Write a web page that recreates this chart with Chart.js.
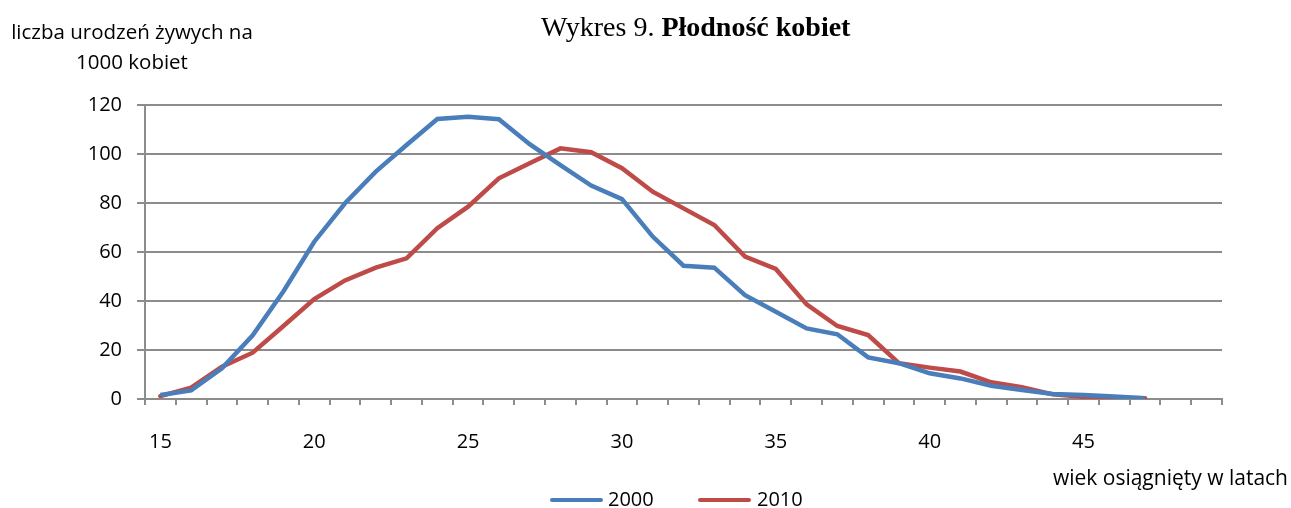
<!DOCTYPE html>
<html>
<head>
<meta charset="utf-8">
<script src="https://cdn.jsdelivr.net/npm/chart.js@4.4.1/dist/chart.umd.min.js"></script>
<style>
  body { margin: 0; background: #fff; }
  #wrap { position: relative; width: 1291px; height: 508px; }
  canvas { position: absolute; left: 0; top: 0; }
  .txt { position: absolute; font-family: "Open Sans", sans-serif; color: #000; line-height: 1; white-space: nowrap; }
  #title { position: absolute; left: 541px; top: 13px; font-family: "Liberation Serif", serif; font-size: 28px; line-height: 1; white-space: nowrap; }
  .legline { position: absolute; top: 498px; width: 53px; height: 4px; border-radius: 2px; }
</style>
</head>
<body>
<div id="wrap">
  <canvas id="fert" width="1291" height="508"></canvas>
  <div id="title">Wykres 9. <b>Płodność kobiet</b></div>
  <div class="txt" style="left:2px; top:16px; width:260px; text-align:center; font-size:20.5px; line-height:30px;">liczba urodzeń żywych na<br>1000 kobiet</div>
  <div class="txt" style="right:3px; top:467px; font-size:21px;">wiek osiągnięty w latach</div>
  <div class="legline" style="left:550px; background:#4a7ebb"></div>
  <div class="txt" style="left:608px; top:489px; font-size:20px;">2000</div>
  <div class="legline" style="left:698px; background:#be4b48"></div>
  <div class="txt" style="left:757px; top:489px; font-size:20px;">2010</div>
</div>
<script>
// wiek 15-49, dane do 47 lat
var ages = [];
for (var a = 15; a <= 49; a++) ages.push(String(a));

var y2000 = [1.6, 3.5, 12.5, 26, 44, 64.2, 79.9, 92.8, 103.7, 114.3, 115.2, 114.2, 104, 95.5, 87.1, 81.6,
             66.3, 54.4, 53.6, 42.4, 35.6, 28.8, 26.4, 17.0, 14.6, 10.5, 8.4, 5.4, 3.7, 2.0, 1.6, 1.0, 0.3];
var y2010 = [1.2, 4.6, 13.2, 18.9, 29.8, 40.8, 48.4, 53.6, 57.4, 69.7, 78.5, 90.1, 96.2, 102.3, 100.7, 94.2,
             84.6, 77.8, 71.0, 58.1, 53.1, 38.6, 29.8, 26.1, 14.6, 12.8, 11.2, 6.8, 4.8, 1.9, 0.9, 0.5, 0.3];

var gridGray = '#8c8c8c';
var tickFont = { family: 'Open Sans', size: 20 };

new Chart(document.getElementById('fert').getContext('2d'), {
  type: 'line',
  data: {
    labels: ages,
    datasets: [{
      label: '2000',
      data: y2000,
      borderColor: '#4a7ebb',
      borderWidth: 4.5,
      pointRadius: 0,
      tension: 0
    }, {
      label: '2010',
      data: y2010,
      borderColor: '#be4b48',
      borderWidth: 4.5,
      pointRadius: 0,
      tension: 0,
      borderCapStyle: 'round'
    }]
  },
  options: {
    responsive: false,
    animation: false,
    layout: { padding: { left: 0, right: 69, top: 105, bottom: 49 } },
    plugins: { legend: { display: false }, tooltip: { enabled: false } },
    scales: {
      x: {
        offset: true,
        afterFit: function (s) { s.height = 60; },
        grid: { offset: true, drawOnChartArea: false, drawTicks: true, tickLength: 6, color: gridGray, lineWidth: 2 },
        border: { color: gridGray, width: 2 },
        ticks: {
          autoSkip: false, maxRotation: 0, padding: 25, color: '#000', font: tickFont,
          callback: function (v) {
            var l = this.getLabelForValue(v);
            return (Number(l) - 15) % 5 === 0 ? l : '';
          }
        }
      },
      y: {
        min: 0, max: 120,
        afterFit: function (s) { s.width = 145; },
        grid: { color: gridGray, lineWidth: 2, tickLength: 8 },
        border: { color: gridGray, width: 2 },
        ticks: { stepSize: 20, padding: 15, color: '#000', font: tickFont }
      }
    }
  }
});
</script>
</body>
</html>
